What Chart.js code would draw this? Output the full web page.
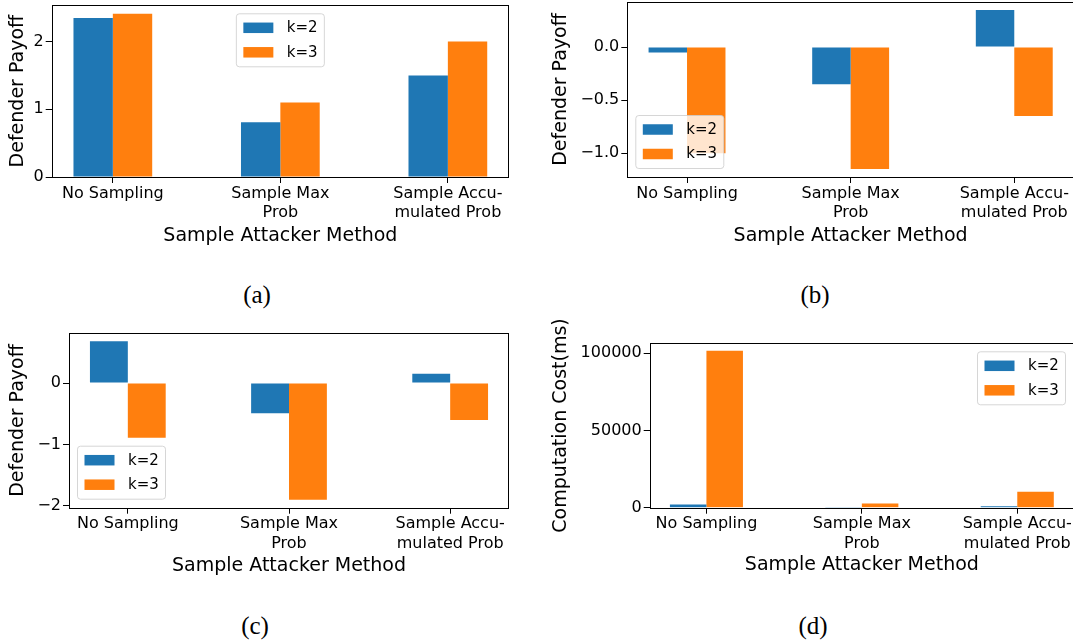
<!DOCTYPE html>
<html><head><meta charset="utf-8">
<script src="https://cdn.jsdelivr.net/npm/chart.js@4.4.1/dist/chart.umd.min.js"></script>
<style>
html,body{margin:0;padding:0;background:#fff;overflow:hidden;width:1073px;height:643px;}
.panel{position:absolute;}
.panel canvas{display:block;}
.cap{position:absolute;font-family:"Liberation Serif","Times New Roman",serif;font-size:25px;line-height:25px;color:#000;transform:translate(-50%,-50%);white-space:nowrap;}
</style></head><body>
<div class="panel" style="left:0px;top:0px"><canvas id="ca" width="536" height="265"></canvas></div>
<div class="panel" style="left:540px;top:0px"><canvas id="cb" width="540" height="265"></canvas></div>
<div class="panel" style="left:0px;top:320px"><canvas id="cc" width="536" height="265"></canvas></div>
<div class="panel" style="left:540px;top:320px"><canvas id="cd" width="540" height="265"></canvas></div>
<div class="cap" style="left:257px;top:294px">(a)</div>
<div class="cap" style="left:815px;top:294px">(b)</div>
<div class="cap" style="left:255px;top:625px">(c)</div>
<div class="cap" style="left:813px;top:625px">(d)</div>
<script>
// ---------------- data ----------------
const categories = [["No Sampling"], ["Sample Max", "Prob"], ["Sample Accu-", "mulated Prob"]];
const categoryPositions = [0, 1, 2];
const seriesLabels = ["k=2", "k=3"];

const payoffA_k2 = [2.35, 0.81, 1.50];
const payoffA_k3 = [2.41, 1.10, 2.00];

const payoffB_k2 = [-0.05, -0.35, 0.35];
const payoffB_k3 = [-1.00, -1.15, -0.65];

const payoffC_k2 = [0.68, -0.49, 0.15];
const payoffC_k3 = [-0.89, -1.90, -0.60];

const costD_k2 = [2000, 150, 900];
const costD_k3 = [101700, 2800, 10300];

const yTicksA = [0, 1, 2];
const yTickLabelsA = ["0", "1", "2"];
const yTicksB = [-1.0, -0.5, 0.0];
const yTickLabelsB = ["\u22121.0", "\u22120.5", "0.0"];
const yTicksC = [-2, -1, 0];
const yTickLabelsC = ["\u22122", "\u22121", "0"];
const yTicksD = [0, 50000, 100000];
const yTickLabelsD = ["0", "50000", "100000"];

const xTitle = "Sample Attacker Method";
const yTitlePayoff = "Defender Payoff";
const yTitleCost = "Computation Cost(ms)";

// ---------------- styling ----------------
const COLORS = ["#1f77b4", "#ff7f0e"];
const FONT = "'DejaVu Sans', Verdana, sans-serif";
const TITLE_SIZE = 19, TICK_SIZE = 16, LEGEND_SIZE = 15;

const framePlugin = {
  id: 'mplFrame',
  afterDatasetsDraw(chart) {
    const a = chart.chartArea, ctx = chart.ctx;
    ctx.save();
    ctx.strokeStyle = '#000';
    ctx.lineWidth = 1;
    ctx.strokeRect(Math.round(a.left) + 0.5, Math.round(a.top) + 0.5,
                   Math.round(a.right) - Math.round(a.left) - 1, Math.round(a.bottom) - Math.round(a.top));
    ctx.restore();
  }
};

const legendPlugin = {
  id: 'mplLegend',
  afterDatasetsDraw(chart, args, opts) {
    const a = chart.chartArea, ctx = chart.ctx;
    const w = 88, h = 53, pad = 8.5;
    let x, y;
    if (opts.loc === 'upper center') { x = (a.left + a.right) / 2 - w / 2; y = a.top + pad; }
    else if (opts.loc === 'lower left') { x = a.left + pad; y = a.bottom - pad - h; }
    else { x = a.right - pad - w; y = a.top + pad; }
    ctx.save();
    const r = 3;
    ctx.beginPath();
    ctx.moveTo(x + r, y);
    ctx.arcTo(x + w, y, x + w, y + h, r);
    ctx.arcTo(x + w, y + h, x, y + h, r);
    ctx.arcTo(x, y + h, x, y, r);
    ctx.arcTo(x, y, x + w, y, r);
    ctx.closePath();
    ctx.fillStyle = 'rgba(255,255,255,0.8)';
    ctx.fill();
    ctx.strokeStyle = 'rgba(204,204,204,0.8)';
    ctx.lineWidth = 1;
    ctx.stroke();
    const rows = [14, 38.5];
    chart.data.datasets.forEach((ds, i) => {
      const cy = y + rows[i];
      ctx.fillStyle = ds.backgroundColor;
      ctx.fillRect(x + 7, cy - 5.25, 30, 10.5);
      ctx.fillStyle = '#000';
      ctx.font = LEGEND_SIZE + "px " + FONT;
      ctx.textBaseline = 'middle';
      ctx.textAlign = 'left';
      ctx.fillText(ds.label, x + 50.5, cy + 0.5);
    });
    ctx.restore();
  }
};

function makePanel(id, spec) {
  const canvas = document.getElementById(id);
  const cw = canvas.width, ch = canvas.height;
  const lh = TITLE_SIZE * 1.2;
  const yScaleLeft = spec.yTitleX - lh / 2;
  const W = spec.area.l - yScaleLeft;
  const xScaleBottom = spec.xTitleY + lh / 2;
  const H = xScaleBottom - spec.area.b;
  const tickFont = { family: FONT, size: TICK_SIZE, lineHeight: 1.2 };
  const titleFont = { family: FONT, size: TITLE_SIZE, lineHeight: 1.2 };
  new Chart(canvas, {
    type: 'bar',
    data: {
      datasets: spec.series.map((vals, i) => ({
        label: seriesLabels[i],
        data: vals.map((v, j) => ({ x: categoryPositions[j], y: v })),
        backgroundColor: COLORS[i],
        borderWidth: 0,
        categoryPercentage: 0.47,
        barPercentage: 1.0
      }))
    },
    options: {
      responsive: false,
      animation: false,
      events: [],
      layout: { padding: { left: yScaleLeft, top: spec.area.t, right: cw - spec.area.r, bottom: ch - xScaleBottom } },
      plugins: { legend: { display: false }, tooltip: { enabled: false }, mplLegend: { loc: spec.legendLoc } },
      scales: {
        x: {
          type: 'linear', min: -0.365, max: 2.365, offset: false,
          afterBuildTicks: s => { s.ticks = categoryPositions.map(v => ({ value: v })); },
          afterFit: s => { s.height = H; s.paddingLeft = 0; s.paddingRight = 0; },
          ticks: { callback: (v, i) => categories[i], maxRotation: 0, minRotation: 0, autoSkip: false,
                   font: tickFont, color: '#000', padding: 1 },
          grid: { offset: false, drawOnChartArea: false, drawTicks: true, tickLength: 6, color: '#000', lineWidth: 1 },
          border: { display: false },
          title: { display: true, text: xTitle, font: titleFont, color: '#000', padding: 0 }
        },
        y: {
          type: 'linear', min: spec.yMin, max: spec.yMax,
          afterBuildTicks: s => { s.ticks = spec.yTicks.map(v => ({ value: v })); },
          afterFit: s => { s.width = W; s.paddingTop = 0; s.paddingBottom = 0; },
          ticks: { callback: (v, i) => spec.yTickLabels[i], font: tickFont, color: '#000', padding: 2 },
          grid: { offset: false, drawOnChartArea: false, drawTicks: true, tickLength: 6, color: '#000', lineWidth: 1 },
          border: { display: false },
          title: { display: true, text: spec.yTitle, font: titleFont, color: '#000', padding: 0 }
        }
      }
    },
    plugins: [framePlugin, legendPlugin]
  });
}

makePanel('ca', {
  series: [payoffA_k2, payoffA_k3], yMin: 0, yMax: 2.536,
  yTicks: yTicksA, yTickLabels: yTickLabelsA, yTitle: yTitlePayoff,
  area: { l: 51.7, t: 5.3, r: 509, b: 177 }, yTitleX: 18.3, xTitleY: 236, legendLoc: 'upper center'
});
makePanel('cb', {
  series: [payoffB_k2, payoffB_k3], yMin: -1.225, yMax: 0.425,
  yTicks: yTicksB, yTickLabels: yTickLabelsB, yTitle: yTitlePayoff,
  area: { l: 87.3, t: 2, r: 534, b: 177 }, yTitleX: 21.3, xTitleY: 236, legendLoc: 'lower left'
});
makePanel('cc', {
  series: [payoffC_k2, payoffC_k3], yMin: -2.029, yMax: 0.809,
  yTicks: yTicksC, yTickLabels: yTickLabelsC, yTitle: yTitlePayoff,
  area: { l: 69, t: 13.3, r: 509, b: 187.7 }, yTitleX: 18.3, xTitleY: 246, legendLoc: 'lower left'
});
makePanel('cd', {
  series: [costD_k2, costD_k3], yMin: 0, yMax: 106500,
  yTicks: yTicksD, yTickLabels: yTickLabelsD, yTitle: yTitleCost,
  area: { l: 109.7, t: 23.3, r: 534, b: 187.7 }, yTitleX: 21.3, xTitleY: 245, legendLoc: 'upper right'
});
</script>
</body></html>
